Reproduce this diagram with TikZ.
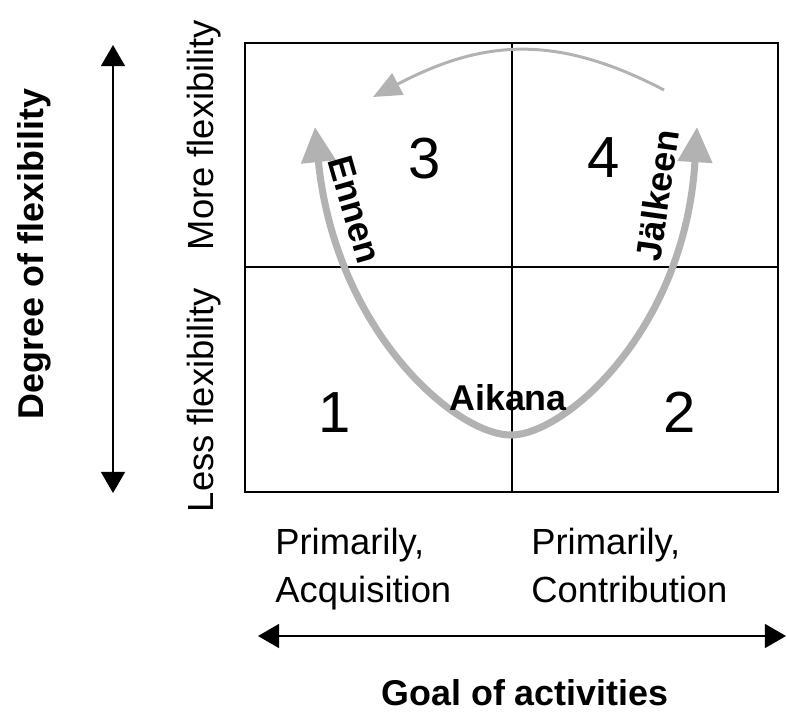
\documentclass[tikz,border=0pt]{standalone}
\usepackage{fontspec}
\setmainfont{Liberation Sans}
\usetikzlibrary{arrows.meta}
\definecolor{arcgray}{RGB}{178,178,178}

\begin{document}
\begin{tikzpicture}
      [x=0.02cm,y=-0.02cm,
       lbl/.style={inner sep=0pt,font=\fontsize{20.7}{27.2}\selectfont},
       blbl/.style={inner sep=0pt,font=\fontsize{20.4}{24}\selectfont\bfseries},
       num/.style={inner sep=0pt,font=\fontsize{33}{36}\selectfont},
       quadline/.style={line width=1.5pt},
       flexaxis/.style={line width=1.1pt,
         {Triangle[length=12pt,width=13.6pt]}-{Triangle[length=12pt,width=13.6pt]}},
       uarc/.style={arcgray,line width=4pt,
         {Triangle[length=20pt,width=19pt]}-{Triangle[length=20pt,width=19pt]}},
       toparc/.style={arcgray,line width=1.7pt,-{Triangle[length=16pt,width=13.6pt]}}]
      \useasboundingbox (0,0) rectangle (787,711);
      % vertical axis
      \node[blbl,rotate=90,anchor=base] (deg) at (43,254) {Degree of flexibility};
      \coordinate (vtop) at (113,45);
      \coordinate (vbot) at (113,493);
      \draw[flexaxis] (vbot) -- (vtop);
      \node[lbl,rotate=90,anchor=base] (more) at (213,135) {More flexibility};
      \node[lbl,rotate=90,anchor=base] (less) at (213,400) {Less flexibility};
      % the four quadrants
      \draw[quadline] (245,43) rectangle (778,492);
      \draw[quadline] (512,43) -- (512,492);
      \draw[quadline] (245,267) -- (778,267);
      \node[num,anchor=base] (q1) at (335,432) {1};
      \node[num,anchor=base] (q2) at (680,432) {2};
      \node[num,anchor=base] (q3) at (425,178) {3};
      \node[num,anchor=base] (q4) at (604,177) {4};
      % path through time
      \coordinate (etip) at (315,127);
      \coordinate (jtip) at (697,127);
      \coordinate (ubot) at (511,435);
      \draw[uarc] (etip) .. controls (335,330) and (455,435) .. (ubot)
        .. controls (565,435) and (685,330) .. (jtip);
      \coordinate (arcstart) at (664,90);
      \coordinate (arctip) at (373,97);
      \draw[toparc] (arcstart) .. controls (555,33) and (482,40) .. (arctip);
      \node[blbl,anchor=base] (aik) at (508,410) {Aikana};
      \node[blbl,rotate=-74,anchor=base] (enn) at (343,213) {Ennen};
      \node[blbl,rotate=82,anchor=base] (jal) at (670,197) {Jälkeen};
      % horizontal axis
      \node[lbl,align=left,anchor=north west] (acq) at (275,528) {Primarily,\\Acquisition};
      \node[lbl,align=left,anchor=north west] (con) at (531,528) {Primarily,\\Contribution};
      \coordinate (hl) at (258,636);
      \coordinate (hr) at (786,636);
      \draw[flexaxis] (hl) -- (hr);
      \node[blbl,anchor=base] (goal) at (525,705) {Goal of activities};
    \end{tikzpicture}
\end{document}
